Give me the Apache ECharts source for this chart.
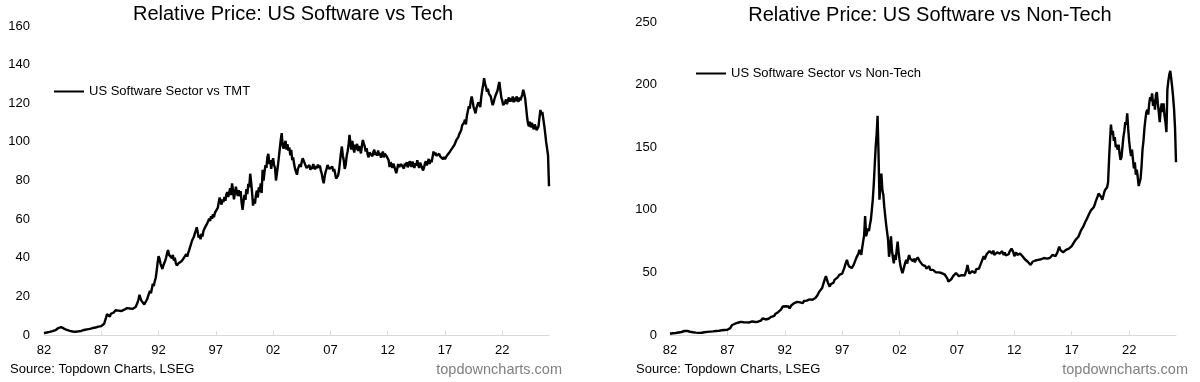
<!DOCTYPE html>
<html><head><meta charset="utf-8">
<script src="https://cdn.jsdelivr.net/npm/echarts@6/dist/echarts.min.js"></script>
<style>html,body{margin:0;padding:0;background:#fff}#c{width:1200px;height:382px}</style>
</head><body><div id="c"></div>
<script>
// Monthly observations starting January 1982
const startYear = 1982;
const xTickYears = [1982, 1987, 1992, 1997, 2002, 2007, 2012, 2017, 2022];
const leftYTicks = [0, 20, 40, 60, 80, 100, 120, 140, 160];
const rightYTicks = [0, 50, 100, 150, 200, 250];

const softwareVsTmt = [
1.0,1.2,1.1,1.3,1.5,1.4,1.6,1.8,1.7,2.0,2.2,2.3,
2.5,2.8,3.2,3.6,4.0,4.3,4.1,3.8,3.5,3.3,3.0,2.8,
2.6,2.4,2.3,2.1,2.0,1.9,1.8,1.7,1.8,1.7,1.6,1.8,
1.9,2.0,2.2,2.1,2.3,2.5,2.6,2.8,2.7,2.9,3.1,3.0,
3.2,3.4,3.3,3.6,3.8,3.7,3.9,4.1,4.0,4.3,4.5,4.4,
4.6,4.5,5.0,5.8,7.5,9.0,10.8,9.8,10.5,9.5,11.0,11.8,
12.0,11.6,12.4,12.8,12.2,13.0,12.6,13.2,12.8,12.4,13.0,12.7,
13.1,12.8,13.5,13.9,13.4,14.1,13.7,14.3,13.9,13.6,14.4,14.0,
14.5,15.2,16.8,18.5,20.8,19.2,17.8,18.6,17.0,15.8,15.5,16.8,
18.5,20.0,21.5,22.8,21.6,24.0,26.5,25.4,27.8,29.5,33.0,37.5,
40.8,39.5,37.0,35.5,34.2,36.0,35.0,38.5,40.2,42.5,44.0,41.5,
40.5,42.3,39.8,41.5,38.6,40.0,37.5,36.0,35.2,37.2,38.0,37.0,
38.2,37.6,39.5,38.8,40.5,41.8,40.6,42.4,43.8,45.5,47.0,48.8,
49.5,50.8,52.6,54.0,55.8,53.2,50.5,51.8,49.6,52.5,51.0,53.8,
54.5,56.0,55.2,57.8,58.5,60.2,59.0,61.5,60.2,62.5,61.0,63.2,
64.0,62.5,65.8,68.5,71.2,69.0,67.5,70.2,68.8,71.5,69.5,72.8,
74.0,71.5,73.8,76.0,72.5,78.5,74.8,70.2,73.5,76.8,74.2,72.0,
75.0,71.8,74.5,68.5,64.8,69.0,72.5,70.0,75.5,73.0,78.2,76.5,
83.5,79.0,73.5,67.0,70.5,68.0,72.5,74.8,71.2,76.5,74.0,78.5,
73.5,85.5,80.0,84.5,88.0,86.5,92.0,93.8,88.5,90.5,86.0,89.5,
91.5,88.0,86.5,80.0,79.4,87.5,92.0,96.5,101.0,104.5,98.0,96.5,
97.5,100.5,96.0,98.8,95.5,97.2,93.0,95.8,90.5,92.0,88.5,86.0,
84.5,83.0,86.0,85.2,88.5,87.0,89.8,91.5,92.4,89.0,88.2,86.5,
87.5,86.2,88.0,85.5,87.2,86.0,88.5,87.0,85.8,87.5,86.4,88.2,
86.5,87.8,85.0,83.5,80.5,78.6,82.0,84.5,86.0,88.0,87.2,86.0,
86.8,85.5,87.2,84.8,86.0,83.5,81.0,80.3,82.5,85.0,89.5,94.0,
97.6,93.0,90.5,86.0,88.0,92.5,95.0,98.0,103.6,99.5,96.0,100.5,
97.0,94.5,98.5,96.0,99.0,95.2,97.8,96.5,94.0,98.0,101.0,99.2,
97.5,95.0,96.8,93.5,92.0,94.5,93.8,95.2,92.5,94.8,96.0,93.2,
94.5,92.8,95.5,93.0,94.2,91.8,93.5,95.0,92.0,93.8,94.5,92.5,
93.0,90.5,87.0,89.5,88.0,86.5,88.8,87.2,85.5,83.8,86.0,88.5,
87.0,86.0,88.5,89.2,87.5,86.2,88.8,87.5,89.5,86.8,88.0,90.0,
88.5,87.0,89.8,88.2,86.5,89.0,87.8,90.5,88.0,86.5,89.2,88.0,
87.0,85.2,86.5,88.8,90.0,87.8,89.5,91.2,88.5,90.8,89.5,92.0,
95.0,93.2,94.5,92.8,93.5,92.0,93.8,92.5,91.5,92.8,91.0,92.2,
91.0,91.5,92.8,92.0,93.5,94.8,94.0,95.5,97.0,96.2,98.5,99.5,
101.0,100.2,102.5,104.0,103.2,106.0,108.5,107.5,110.0,111.5,109.0,113.5,
116.0,118.5,117.2,121.0,123.5,121.0,118.0,116.5,114.8,117.5,119.0,120.5,
121.5,118.0,123.0,126.5,129.5,133.0,130.0,128.5,126.0,127.5,125.0,124.2,
123.5,121.0,119.0,120.5,122.5,124.0,123.0,126.5,129.0,131.0,127.0,123.0,
121.5,119.0,118.0,120.5,122.0,119.5,121.5,123.0,120.8,122.5,121.0,123.5,
120.5,122.8,121.0,123.5,122.0,120.8,123.0,121.5,122.2,124.5,127.0,125.0,
122.5,118.0,113.0,109.5,108.0,110.5,107.5,109.8,108.2,106.5,109.0,107.8,
106.0,105.5,108.0,112.5,116.5,114.0,115.5,112.0,108.5,104.5,100.0,96.5,
93.0,77.0
];

const softwareVsNonTech = [
1.0,1.2,1.1,1.4,1.5,1.3,1.6,1.8,1.7,2.0,2.2,2.1,
2.4,2.7,2.9,3.2,3.4,3.6,3.3,3.0,2.8,2.6,2.5,2.3,
2.2,2.1,2.0,1.9,1.8,1.9,1.7,1.8,1.9,1.8,2.0,2.1,
2.2,2.3,2.2,2.5,2.4,2.6,2.7,2.6,2.8,2.9,3.0,3.1,
3.2,3.1,3.4,3.3,3.6,3.5,3.8,3.7,3.9,4.0,3.8,4.1,
4.2,4.4,4.8,5.5,6.8,8.0,9.3,8.5,9.0,8.2,9.5,9.8,
10.2,9.6,10.5,10.0,10.8,10.2,9.8,10.6,10.1,10.9,10.4,10.0,
10.5,10.1,10.8,10.3,11.0,10.4,10.2,10.9,10.6,11.2,10.8,11.5,
12.2,13.3,12.5,11.8,12.4,11.6,12.2,13.0,12.5,13.8,14.5,15.4,
16.0,15.2,16.8,15.8,17.5,18.2,17.4,19.0,20.2,21.5,22.8,23.5,
24.2,23.0,22.0,21.5,22.8,21.2,22.5,23.8,22.6,24.0,25.5,26.2,
25.0,26.5,25.2,27.0,26.0,27.5,26.2,25.5,27.2,28.0,26.8,27.5,
26.5,27.8,28.5,27.2,27.0,28.2,29.0,28.0,29.5,30.8,31.5,33.0,
34.6,33.2,35.5,37.5,40.0,42.5,45.0,47.0,44.5,42.0,40.2,38.6,
40.5,42.0,39.5,41.8,44.0,45.0,43.2,45.8,46.5,48.0,46.5,48.5,
49.0,51.0,53.0,55.5,58.0,60.0,57.0,55.0,56.0,54.0,53.5,55.0,
56.0,58.0,60.0,62.0,61.0,65.0,68.0,66.0,64.0,70.0,75.0,80.0,
95.0,79.0,82.0,85.0,83.0,88.0,92.0,100.0,108.0,120.0,135.0,150.0,
160.0,175.0,145.0,108.0,120.0,129.0,116.0,112.0,102.5,95.0,88.0,82.0,
76.0,62.5,68.0,78.9,68.0,62.0,57.3,64.0,60.0,68.0,74.5,66.0,
60.0,55.0,52.0,49.3,52.0,55.0,58.0,60.0,57.0,61.0,63.9,61.0,
60.0,62.0,59.0,61.0,58.0,60.0,59.9,62.0,61.0,59.0,60.0,58.0,
56.0,54.5,56.0,55.0,53.0,54.0,53.2,55.0,52.0,53.0,51.5,52.0,
50.6,51.5,50.0,49.5,51.0,50.0,49.0,50.5,49.5,50.5,49.0,48.5,
47.9,48.5,45.0,42.6,44.0,43.0,44.5,45.8,47.0,46.0,48.2,49.5,
50.0,48.5,47.0,48.2,46.5,47.8,47.0,48.5,47.5,48.0,52.0,56.0,
52.0,49.0,50.5,48.5,51.0,50.0,52.0,49.5,52.5,51.0,54.0,53.0,
55.0,57.0,56.0,58.5,63.0,60.5,62.0,64.5,63.0,65.5,67.0,68.0,
66.5,65.0,67.5,64.0,65.5,63.5,66.0,64.5,66.5,65.0,66.0,67.0,
65.5,64.0,66.0,63.5,65.0,63.0,64.5,66.5,65.5,69.0,67.5,66.0,
63.0,64.5,66.0,64.0,65.5,64.5,65.0,63.5,64.5,62.5,61.0,60.5,
60.0,59.0,58.5,57.5,58.0,56.0,57.5,58.5,57.0,58.0,59.5,58.5,
59.0,60.0,58.5,59.5,60.5,61.0,60.0,61.5,60.5,62.0,61.0,62.5,
62.0,61.5,63.0,62.0,64.0,63.5,64.5,63.0,64.0,66.0,68.5,70.6,
68.0,66.5,67.0,66.0,67.5,66.5,68.0,67.0,68.5,69.0,70.0,69.5,
71.0,72.0,73.5,74.5,76.0,75.0,77.5,78.5,80.5,82.0,84.0,85.0,
86.5,88.0,90.0,91.5,93.0,94.5,96.5,97.4,99.5,101.0,100.0,102.0,
104.0,106.5,108.0,110.5,113.0,114.5,112.0,110.0,108.0,111.0,114.0,116.0,
116.0,118.0,122.0,140.0,155.0,168.0,160.0,163.0,155.0,158.0,150.0,152.0,
148.0,152.0,145.0,140.0,142.0,150.0,158.0,163.0,170.0,168.0,177.0,165.0,
155.0,148.0,143.0,148.0,140.0,133.0,138.0,128.0,132.0,126.0,119.0,122.0,
125.0,135.0,148.0,155.0,165.0,172.0,178.0,180.0,176.0,185.0,190.0,187.0,
193.0,183.0,188.0,180.0,192.0,194.0,185.0,178.0,170.0,180.0,185.0,178.0,
185.0,175.0,170.0,162.0,196.0,203.0,208.0,211.0,205.0,198.0,190.0,180.0,
165.0,138.0
];

const FONT = '"Liberation Sans", Arial, sans-serif';
const toPoints = arr => arr.map((v, i) => [i / 12, v]);
const xTickOffsets = xTickYears.map(y => y - startYear);
const xMax = (softwareVsTmt.length - 1) / 12;

function xAxisFor(gridIndex) {
  return {
    type: 'value', gridIndex, min: 0, max: xMax, interval: 5,
    axisLine: { show: true, lineStyle: { color: '#d9d9d9', width: 1 } },
    axisTick: { show: true, inside: true, length: 4, lineStyle: { color: '#d9d9d9' }, customValues: xTickOffsets },
    axisLabel: {
      customValues: xTickOffsets, margin: 9, color: '#000', fontSize: 13, fontFamily: FONT,
      formatter: v => String((startYear + Math.round(v)) % 100).padStart(2, '0')
    },
    splitLine: { show: false }
  };
}
function yAxisFor(gridIndex, max, interval, margin) {
  return {
    type: 'value', gridIndex, min: 0, max, interval,
    axisLine: { show: false }, axisTick: { show: false }, splitLine: { show: false },
    axisLabel: { color: '#000', fontSize: 13, fontFamily: FONT, margin }
  };
}
function txt(x, y, text, size, align, color) {
  return { type: 'text', x, y, silent: true,
    style: { text, font: size + 'px ' + FONT, fill: color || '#000', textAlign: align, textVerticalAlign: 'middle' } };
}

const chart = echarts.init(document.getElementById('c'), null, { renderer: 'canvas' });
chart.setOption({
  animation: false,
  backgroundColor: '#fff',
  grid: [
    { left: 44, top: 26, width: 505, height: 309 },
    { left: 670, top: 22, width: 506, height: 313 }
  ],
  xAxis: [xAxisFor(0), xAxisFor(1)],
  yAxis: [yAxisFor(0, leftYTicks[leftYTicks.length - 1], 20, 14), yAxisFor(1, rightYTicks[rightYTicks.length - 1], 50, 13)],
  legend: [
    { data: ['US Software Sector vs TMT'], left: 54, top: 85, padding: 0, icon: 'rect', itemWidth: 30, itemHeight: 2,
      textStyle: { fontSize: 13, fontFamily: FONT, color: '#000' }, selectedMode: false },
    { data: ['US Software Sector vs Non-Tech'], left: 696, top: 67, padding: 0, icon: 'rect', itemWidth: 30, itemHeight: 2,
      textStyle: { fontSize: 13, fontFamily: FONT, color: '#000' }, selectedMode: false }
  ],
  series: [
    { name: 'US Software Sector vs TMT', type: 'line', xAxisIndex: 0, yAxisIndex: 0, data: toPoints(softwareVsTmt),
      showSymbol: false, color: '#000', lineStyle: { color: '#000', width: 2.4 } },
    { name: 'US Software Sector vs Non-Tech', type: 'line', xAxisIndex: 1, yAxisIndex: 1, data: toPoints(softwareVsNonTech),
      showSymbol: false, color: '#000', lineStyle: { color: '#000', width: 2.4 } }
  ],
  graphic: [
    txt(293, 14, 'Relative Price: US Software vs Tech', 20, 'center'),
    txt(930, 15, 'Relative Price: US Software vs Non-Tech', 20, 'center'),
    txt(10, 369, 'Source: Topdown Charts, LSEG', 13, 'left'),
    txt(636, 369, 'Source: Topdown Charts, LSEG', 13, 'left'),
    txt(562, 370, 'topdowncharts.com', 14.5, 'right', '#7f7f7f'),
    txt(1188, 370, 'topdowncharts.com', 14.5, 'right', '#7f7f7f')
  ]
});
</script></body></html>
